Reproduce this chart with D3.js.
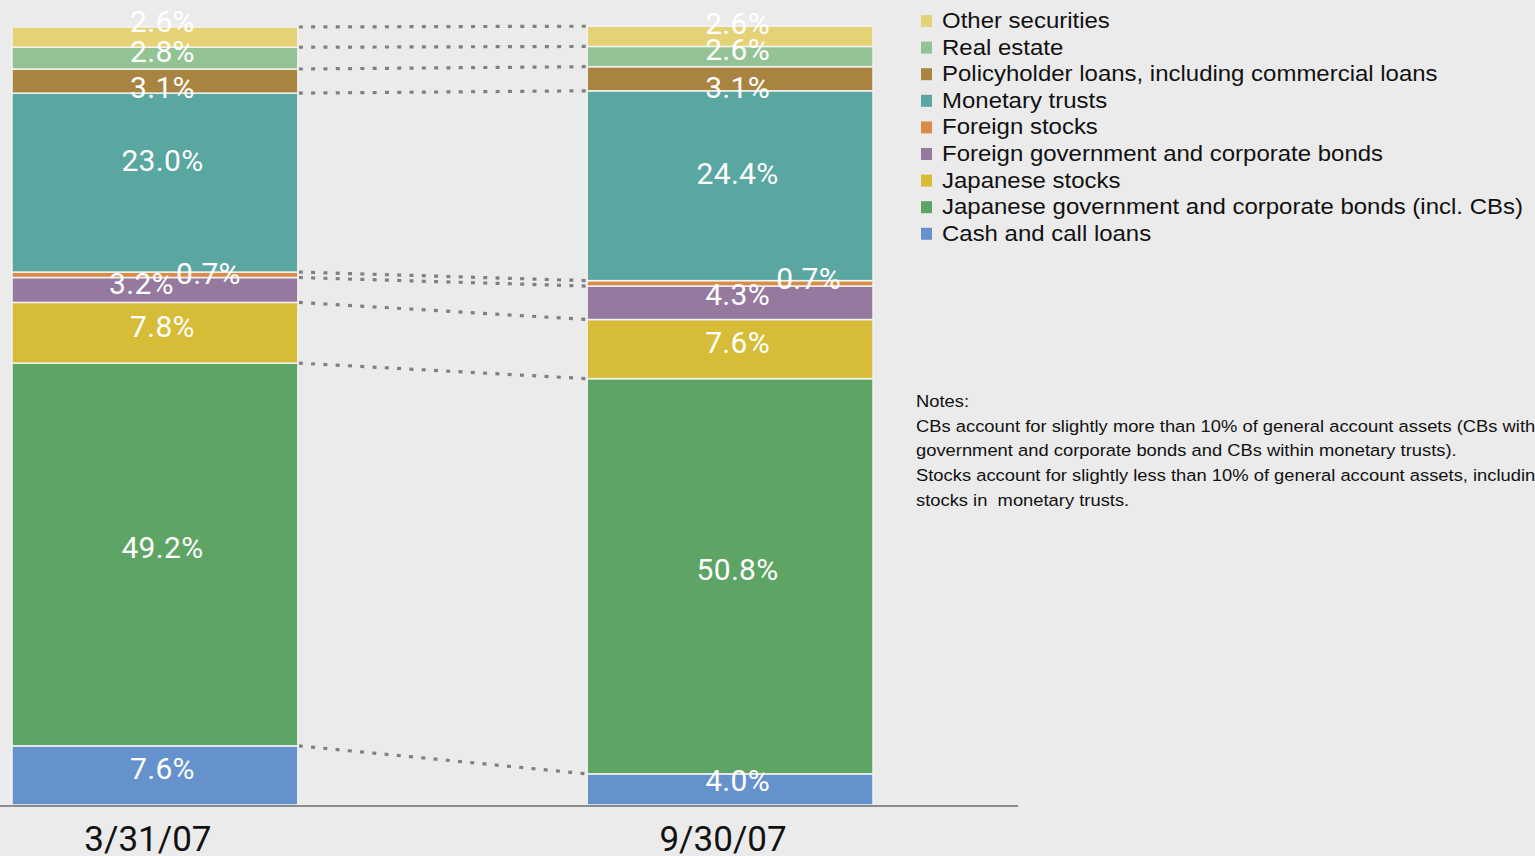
<!DOCTYPE html>
<html>
<head>
<meta charset="utf-8">
<script src="https://cdn.jsdelivr.net/npm/d3@7/dist/d3.min.js"></script>
<style>
  html, body { margin: 0; padding: 0; background: #ebebeb; overflow: hidden; }
  svg { display: block; }
</style>
</head>
<body>
<svg id="chart" width="1535" height="856"></svg>
<script>
// General account asset composition (%)
const dates = ["3/31/07", "9/30/07"];
const categories = [
  "Cash and call loans",
  "Japanese government and corporate bonds (incl. CBs)",
  "Japanese stocks",
  "Foreign government and corporate bonds",
  "Foreign stocks",
  "Monetary trusts",
  "Policyholder loans, including commercial loans",
  "Real estate",
  "Other securities"
];
const valuesMar07 = [7.6, 49.2, 7.8, 3.2, 0.7, 23.0, 3.1, 2.8, 2.6];
const valuesSep07 = [4.0, 50.8, 7.6, 4.3, 0.7, 24.4, 3.1, 2.6, 2.6];
const colors = ["#6592cc", "#5ea464", "#d6bc37", "#95799e", "#d98b48",
                "#5aa6a1", "#a98441", "#93c295", "#e5d276"];
const notes = [
  "Notes:",
  "CBs account for slightly more than 10% of general account assets (CBs within Japanese",
  "government and corporate bonds and CBs within monetary trusts).",
  "Stocks account for slightly less than 10% of general account assets, including",
  "stocks in  monetary trusts."
];

const svg = d3.select("#chart");

// rows for the stack layout
const series = [valuesMar07, valuesSep07];
const table = dates.map((d, i) => {
  const row = { date: d };
  categories.forEach((c, j) => row[c] = series[i][j]);
  return row;
});
const stacked = d3.stack().keys(categories)(table);

const x = d3.scaleBand().domain(dates).range([12, 873]).paddingInner(0.503).paddingOuter(0);
const y = d3.scaleLinear().domain([0, 100]).range([805, 27]);
const color = d3.scaleOrdinal().domain(categories).range(colors);

// dotted connectors between matching segment boundaries
const conn = svg.append("g");
stacked.forEach(layer => {
  conn.append("line")
    .attr("x1", x(dates[0]) + x.bandwidth() + 1)
    .attr("x2", x(dates[1]))
    .attr("y1", y(layer[0][1]))
    .attr("y2", y(layer[1][1]))
    .attr("stroke", "#808080")
    .attr("stroke-width", 3.2)
    .attr("stroke-dasharray", "4 8.3");
});

// stacked bars
const bars = svg.append("g");
stacked.forEach(layer => {
  bars.selectAll(null)
    .data(layer)
    .join("rect")
    .attr("x", d => x(d.data.date))
    .attr("width", x.bandwidth())
    .attr("y", d => y(d[1]))
    .attr("height", d => y(d[0]) - y(d[1]))
    .attr("fill", color(layer.key))
    .attr("stroke", "#f2f2f2")
    .attr("stroke-width", 1.5);
});

// baseline
svg.append("line")
  .attr("x1", 0).attr("x2", 1018)
  .attr("y1", 806).attr("y2", 806)
  .attr("stroke", "#8c8c8c").attr("stroke-width", 2);

// value labels (nudges keep the thin slices readable)
const nudge = {
  "Cash and call loans": [[0, 0], [0, -2]],
  "Foreign government and corporate bonds": [[-21, 0], [0, -2]],
  "Foreign stocks": [[46, 5], [71, 2]],
  "Monetary trusts": [[0, -15], [0, -6]],
  "Policyholder loans, including commercial loans": [[0, 13], [0, 15]],
  "Other securities": [[0, -9], [0, -6]]
};
const labels = svg.append("g")
  .attr("font-family", "Roboto, 'DejaVu Sans', sans-serif")
  .attr("font-size", 30)
  .attr("fill", "#ffffff")
  .attr("text-anchor", "middle");
stacked.forEach(layer => {
  layer.forEach((d, i) => {
    const n = (nudge[layer.key] || [[0, 0], [0, 0]])[i];
    const v = d[1] - d[0];
    labels.append("text")
      .attr("x", x(d.data.date) + x.bandwidth() / 2 + 7.5 + n[0])
      .attr("y", (y(d[0]) + y(d[1])) / 2 - 7 + n[1])
      .attr("dy", "0.36em")
      .attr("letter-spacing", 0.3)
      .text(v.toFixed(1) + "%");
  });
});

// category axis labels
svg.append("g")
  .selectAll("text")
  .data(dates)
  .join("text")
  .attr("x", d => x(d) + x.bandwidth() / 2 - 7)
  .attr("y", 851)
  .attr("text-anchor", "middle")
  .attr("font-family", "Roboto, 'DejaVu Sans', sans-serif")
  .attr("font-size", 35)
  .attr("fill", "#111111")
  .text(d => d);

// legend (top entry is the top segment)
const legendItems = categories.slice().reverse();
const legend = svg.append("g").attr("transform", "translate(921,15)");
legendItems.forEach((c, i) => {
  const g = legend.append("g").attr("transform", `translate(0,${i * 26.6})`);
  g.append("rect").attr("width", 11).attr("height", 12).attr("fill", color(c));
  g.append("text")
    .attr("transform", "translate(21,13) scale(1.09,1)")
    .attr("font-family", "'Liberation Sans', Arial, sans-serif")
    .attr("font-size", 22)
    .attr("fill", "#111111")
    .text(c);
});

// notes
svg.append("g")
  .selectAll("text")
  .data(notes)
  .join("text")
  .attr("transform", (d, i) => `translate(916,${407 + i * 24.7}) scale(1.08,1)`)
  .attr("font-family", "'Liberation Sans', Arial, sans-serif")
  .attr("font-size", 17)
  .attr("fill", "#111111")
  .style("white-space", "pre")
  .text(d => d);
</script>
</body>
</html>
